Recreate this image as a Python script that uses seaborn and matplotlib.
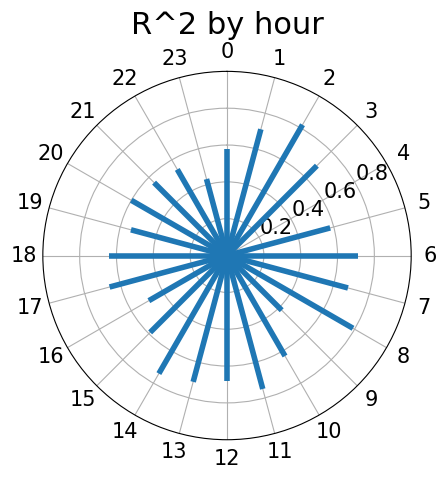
import numpy as np
import matplotlib
matplotlib.use("Agg")
import matplotlib.pyplot as plt
import seaborn as sns

# R^2 per hour of day
hours = list(range(24))
r2 = [0.58, 0.71, 0.82, 0.69, 0.03, 0.58, 0.71, 0.68,
      0.79, 0.42, 0.63, 0.75, 0.68, 0.71, 0.74, 0.59,
      0.49, 0.66, 0.64, 0.54, 0.60, 0.56, 0.54, 0.43]
hour_labels = [str(h) for h in hours]

theta = np.array(hours) * 2 * np.pi / 24
color = sns.color_palette("tab10")[0]

fig = plt.figure(figsize=(4.46, 4.79), dpi=100)
ax = fig.add_axes([0.096, 0.082, 0.826, 0.769], projection="polar")
ax.set_theta_zero_location("N")
ax.set_theta_direction(-1)

ax.vlines(theta, 0, r2, color=color, linewidth=4)

ax.set_xticks(theta)
ax.set_xticklabels(hour_labels, fontsize=15)
ax.set_ylim(0, 1.0)
ax.set_yticks([0.2, 0.4, 0.6, 0.8])
ax.set_yticklabels(["0.2", "0.4", "0.6", "0.8"], fontsize=15)
ax.set_rlabel_position(61)
ax.grid(True)
ax.set_title("R^2 by hour", fontsize=22)

fig.savefig("out.png", dpi=100)
